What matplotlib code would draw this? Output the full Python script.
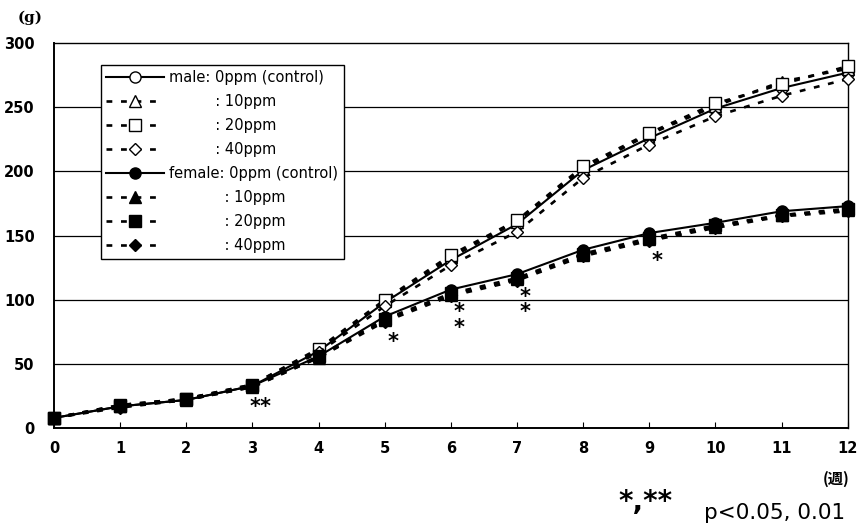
import matplotlib
matplotlib.use("Agg")
import matplotlib.pyplot as plt

plt.rcParams['font.family'] = ['DejaVu Sans', 'Noto Sans CJK JP']

weeks = list(range(13))
male_0 = [8, 17, 22, 33, 60, 98, 131, 159, 201, 226, 249, 265, 277]
male_10 = [8, 18, 23, 34, 61, 99, 133, 161, 202, 229, 251, 270, 280]
male_20 = [8, 18, 23, 34, 62, 100, 135, 162, 204, 230, 253, 268, 282]
male_40 = [8, 17, 22, 33, 59, 95, 127, 153, 195, 221, 243, 259, 272]
female_0 = [8, 17, 22, 33, 56, 87, 108, 120, 139, 152, 160, 169, 173]
female_10 = [8, 17, 22, 32, 55, 84, 104, 116, 135, 147, 157, 166, 170]
female_20 = [8, 17, 23, 33, 56, 85, 105, 117, 136, 148, 158, 166, 171]
female_40 = [8, 16, 22, 32, 55, 83, 103, 115, 134, 146, 156, 165, 169]

labels = ["male: 0ppm (control)", "          : 10ppm", "          : 20ppm", "          : 40ppm",
          "female: 0ppm (control)", "            : 10ppm", "            : 20ppm", "            : 40ppm"]

sig_weeks = [3, 5, 6, 7, 9]
sig_marks = ["**", "*", "*\n*", "*\n*", "*"]

yticks = [0, 50, 100, 150, 200, 250, 300]
xticks = list(range(13))

fig = plt.figure(figsize=(8.58, 5.26), dpi=100)
ax = fig.add_axes([0.063, 0.186, 0.925, 0.732])

dash = (0, (2.2, 3.3))
series = [
    (male_0, 'o', 'white', '-'),
    (male_10, '^', 'white', dash),
    (male_20, 's', 'white', dash),
    (male_40, 'D', 'white', dash),
    (female_0, 'o', 'black', '-'),
    (female_10, '^', 'black', dash),
    (female_20, 's', 'black', dash),
    (female_40, 'D', 'black', dash),
]
for (vals, mk, fc, ls), lab in zip(series, labels):
    ms = 6.5 if mk == 'D' else 8
    ax.plot(weeks, vals, color='black', linestyle=ls, lw=1.5 if ls == '-' else 1.9,
            marker=mk, markersize=ms, markerfacecolor=fc, markeredgecolor='black',
            markeredgewidth=1.0, label=lab, clip_on=False, zorder=3)

female_min = [min(a, b, c) for a, b, c in zip(female_10, female_20, female_40)]
for w, m in zip(sig_weeks, sig_marks):
    dy = -24 if "\n" in m else -20
    ax.annotate(m, xy=(w, female_min[w]), xytext=(8, dy), textcoords='offset pixels',
                ha='center', va='center', fontsize=15, linespacing=0.7,
                fontweight='bold')

ax.set_xlim(0, 12)
ax.set_ylim(0, 300)
ax.set_xticks(xticks)
ax.set_yticks(yticks)
ax.tick_params(axis='x', direction='in', length=4, width=0.8, pad=9, labelsize=10.5)
ax.tick_params(axis='y', length=0, pad=14, labelsize=10.5)
for lab in ax.get_xticklabels() + ax.get_yticklabels():
    lab.set_fontweight('bold')
for y in yticks[1:-1]:
    ax.axhline(y, color='black', lw=0.9, zorder=1)
for s in ax.spines.values():
    s.set_color('black')
    s.set_linewidth(1.0)
ax.spines['left'].set_linewidth(1.4)
ax.spines['bottom'].set_linewidth(1.4)

leg = ax.legend(loc='upper left', bbox_to_anchor=(0.059, 0.943), borderaxespad=0,
                fontsize=10.5, frameon=True, fancybox=False, edgecolor='black',
                framealpha=1, handlelength=4.0, labelspacing=0.62, borderpad=0.35,
                handletextpad=0.35)
leg.get_frame().set_linewidth(1.0)
leg.set_zorder(5)

fig.text(30 / 858, 1 - 18 / 526, "(g)", ha='center', va='center', fontsize=11,
         fontweight='bold', family=['DejaVu Serif'])
fig.text(836 / 858, 1 - 479 / 526, "(週)", ha='center', va='center', fontsize=11,
         fontweight='bold', family=['Noto Sans CJK JP', 'DejaVu Sans'])
fig.text(618 / 858, 1 - 502 / 526, "*,**", ha='left', va='center', fontsize=20,
         fontweight='bold')
fig.text(704 / 858, 1 - 513 / 526, "p<0.05, 0.01", ha='left', va='center', fontsize=15.5)

fig.savefig("out.png", dpi=100)
